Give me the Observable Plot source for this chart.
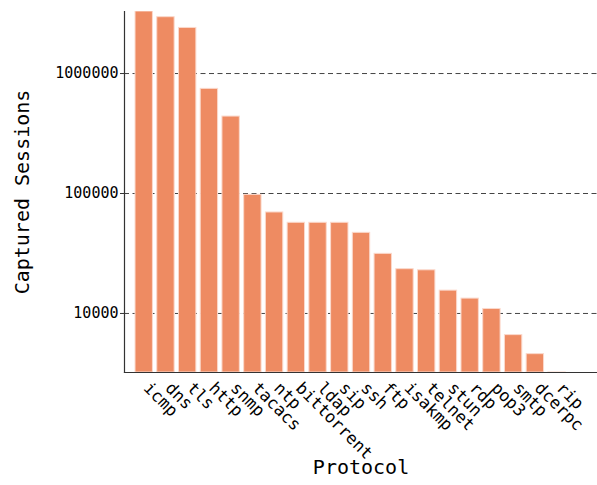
<!DOCTYPE html>
<html>
<head>
<meta charset="utf-8">
<script src="https://cdn.jsdelivr.net/npm/d3@7"></script>
<script src="https://cdn.jsdelivr.net/npm/@observablehq/plot@0.6"></script>
<style>
  html, body { margin: 0; padding: 0; background: #fff; }
</style>
</head>
<body>
<div id="chart"></div>
<script>
const protocols = ["icmp","dns","tls","http","snmp","tacacs","ntp","bittorrent","ldap","sip","ssh","ftp","isakmp","telnet","stun","rdp","pop3","smtp","dcerpc","rip"];
const sessions = [3290000, 2950000, 2400000, 745000, 438000, 97500, 69500, 57000, 57000, 57000, 47000, 31400, 23400, 22900, 15500, 13300, 10900, 6600, 4580, 3000];
const yTicks = [10000, 100000, 1000000];
const yDomain = [3220, 3290000];

const data = protocols.map((p, i) => ({protocol: p, sessions: sessions[i]}));

const chart = Plot.plot({
  width: 597,
  height: 485,
  marginTop: 11,
  marginBottom: 113,
  marginLeft: 124,
  marginRight: 0,
  style: {fontFamily: "'DejaVu Sans Mono', monospace", fontSize: "15px", color: "#000", background: "#fff"},
  x: {domain: protocols, range: [132.85, 567.45], paddingInner: 0.2, paddingOuter: 0.1, round: false},
  y: {type: "log", domain: yDomain},
  marks: [
    Plot.ruleY(yTicks, {stroke: "#444", strokeWidth: 1, strokeDasharray: "5,3.5"}),
    Plot.barY(data, {x: "protocol", y1: yDomain[0], y2: "sessions", fill: "#ee8b62", stroke: "#fbd9cc", strokeWidth: 1, clip: true}),
    Plot.frame({anchor: "left", stroke: "#333", strokeWidth: 1.2}),
    Plot.frame({anchor: "bottom", stroke: "#333", strokeWidth: 1.2}),
    Plot.axisY({ticks: yTicks, tickFormat: d => String(d), tickSize: 4, tickPadding: 2, label: null, stroke: "#333"}),
    Plot.axisX({tickRotate: 45, tickSize: 0, tickPadding: 8.2, dx: 6.9, textAnchor: "start", lineAnchor: "top", fontSize: 16.7, label: null}),
    Plot.text(["Protocol"], {frameAnchor: "bottom", dy: 101, fontSize: 20}),
    Plot.text(["Captured Sessions"], {frameAnchor: "left", textAnchor: "middle", rotate: -90, dx: -102, fontSize: 20})
  ]
});
document.getElementById("chart").appendChild(chart);
</script>
</body>
</html>
